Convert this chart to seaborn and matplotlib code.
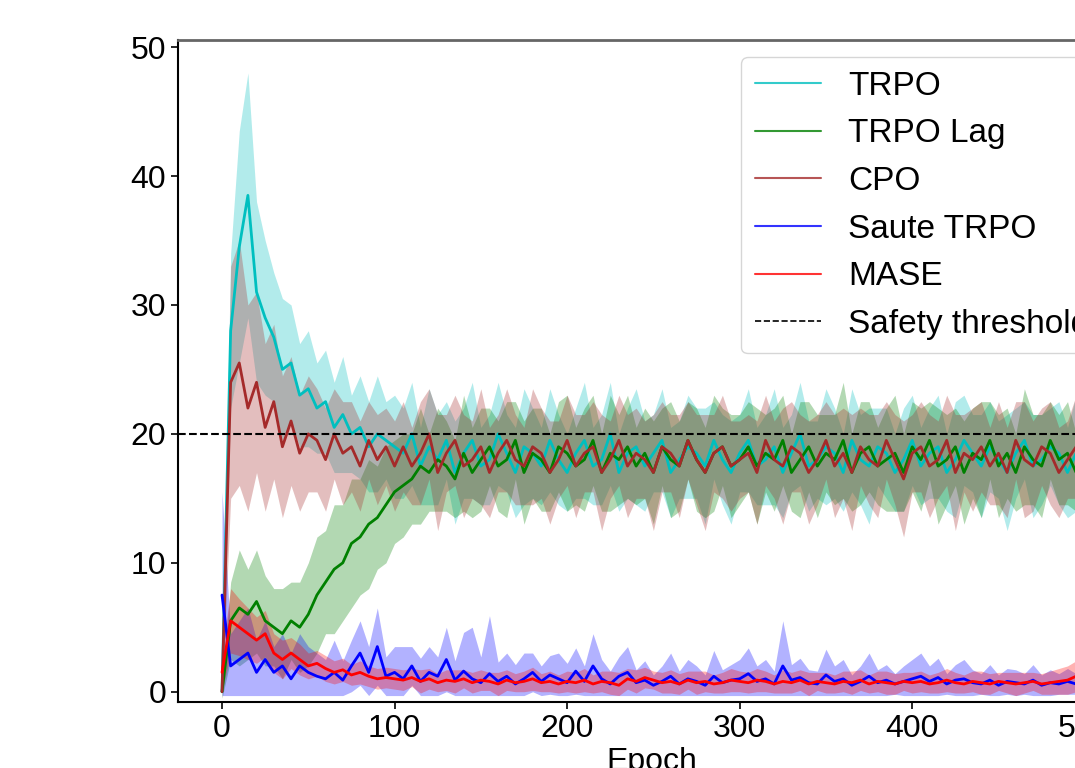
import numpy as np
import pandas as pd
import matplotlib
matplotlib.use("Agg")
import matplotlib.pyplot as plt
import seaborn as sns
from matplotlib.lines import Line2D

# epochs sampled every 5
epochs = np.arange(0, 501, 5)

methods = ["TRPO", "TRPO Lag", "CPO", "Saute TRPO", "MASE"]
colors = {"TRPO": "c", "TRPO Lag": "g", "CPO": "brown", "Saute TRPO": "b", "MASE": "r"}
threshold = 20

trpo_mean = [0.0, 28.0, 34.5, 38.5, 31.0, 29.0, 27.5, 25.0, 25.5, 23.0, 23.5, 22.0, 22.5, 20.5, 21.5, 20.0, 20.5, 19.0, 20.0, 19.5, 19.0,
             18.5, 20.0, 17.5, 19.0, 18.0, 19.5, 17.0, 18.5, 19.5, 17.5, 18.0, 20.0, 18.5, 17.0, 19.0, 18.5, 17.5, 19.5, 18.0, 17.0,
             18.5, 19.5, 17.5, 18.0, 20.0, 17.0, 18.5, 19.0, 17.5, 18.5, 19.5, 17.0, 18.0, 19.0, 18.5, 17.5, 19.5, 18.0, 17.0, 18.5,
             19.5, 17.5, 18.0, 19.0, 17.0, 18.5, 20.0, 17.5, 18.0, 19.0, 18.5, 17.0, 19.5, 18.0, 17.5, 19.0, 18.5, 17.0, 18.0, 19.5,
             17.5, 18.5, 19.0, 17.0, 18.0, 19.5, 18.5, 17.5, 19.0, 18.0, 17.0, 18.5, 19.5, 17.5, 18.0, 19.0, 18.5, 17.0, 18.5, 19.0]
trpo_spread = [0.5, 6.0, 9.0, 9.5, 7.0, 6.0, 5.0, 5.5, 4.5, 4.0, 4.5, 3.5, 4.0, 3.5, 4.5, 3.0, 4.0, 3.5, 4.5, 3.0, 4.0,
               3.5, 4.0, 3.0, 4.5, 3.5, 3.0, 4.0, 3.5, 4.5, 3.0, 3.5, 4.0, 3.0, 3.5, 4.5, 3.5, 3.0, 4.0, 3.5, 3.0,
               3.5, 4.5, 3.0, 3.5, 4.0, 3.0, 3.5, 4.5, 3.5, 3.0, 4.0, 3.5, 3.0, 4.0, 3.5, 4.5, 3.0, 3.5, 4.0, 3.0,
               4.0, 3.0, 3.5, 4.5, 3.5, 3.0, 4.0, 3.5, 3.0, 4.5, 3.5, 3.0, 4.0, 3.5, 4.5, 3.0, 3.5, 3.0, 4.0, 3.5,
               3.0, 3.5, 4.0, 3.0, 4.5, 3.5, 3.0, 4.0, 3.5, 3.0, 4.5, 3.5, 3.0, 4.0, 3.5, 3.0, 4.0, 3.5, 4.5, 3.0]

lag_mean = [0.0, 5.5, 6.5, 6.0, 7.0, 5.5, 5.0, 4.5, 5.5, 5.0, 6.0, 7.5, 8.5, 9.5, 10.0, 11.5, 12.0, 13.0, 13.5, 14.5, 15.5,
            16.0, 16.5, 17.5, 17.0, 18.0, 17.5, 16.5, 18.5, 17.0, 18.0, 19.0, 17.5, 18.0, 19.5, 17.0, 18.5, 18.0, 17.0, 19.0, 18.5,
            17.5, 18.0, 19.5, 17.0, 18.5, 18.0, 19.0, 17.5, 18.5, 17.0, 19.0, 18.0, 17.5, 19.5, 18.0, 17.0, 18.5, 19.0, 17.5, 18.0,
            19.0, 17.5, 18.5, 18.0, 19.5, 17.0, 18.0, 19.0, 17.5, 18.5, 18.0, 19.5, 17.0, 18.5, 19.0, 17.5, 18.0, 18.5, 17.0, 19.0,
            18.0, 19.5, 17.5, 18.0, 19.0, 17.0, 18.5, 18.0, 19.5, 17.5, 18.5, 17.0, 19.0, 18.0, 17.5, 19.5, 18.0, 18.5, 17.0, 18.5]
lag_spread = [0.5, 3.0, 4.5, 3.5, 4.0, 3.5, 3.0, 3.5, 3.0, 3.5, 4.0, 4.5, 4.0, 5.0, 4.5, 5.0, 4.5, 5.0, 4.0, 4.5, 4.0,
              4.0, 3.5, 4.5, 3.0, 4.0, 3.5, 3.0, 4.5, 3.5, 4.0, 3.0, 3.5, 4.5, 3.0, 4.0, 3.5, 4.0, 3.0, 3.5, 4.5,
              3.0, 4.0, 3.5, 3.0, 4.5, 3.5, 4.0, 3.0, 3.5, 4.0, 3.0, 4.5, 3.5, 3.0, 4.0, 3.5, 4.5, 3.0, 4.0, 3.5,
              3.5, 4.5, 3.0, 4.0, 3.5, 3.0, 4.5, 3.5, 4.0, 3.0, 3.5, 4.5, 3.0, 4.0, 3.5, 3.0, 4.0, 4.5, 3.0, 3.5,
              4.0, 3.0, 4.5, 3.5, 3.0, 4.0, 3.5, 4.5, 3.0, 4.0, 3.5, 3.0, 4.5, 3.5, 4.0, 3.0, 3.5, 4.0, 3.0, 4.5]

cpo_mean = [0.0, 24.0, 25.5, 22.0, 24.0, 20.5, 22.5, 19.0, 21.0, 18.5, 20.0, 19.5, 18.0, 20.0, 18.5, 19.0, 17.5, 19.5, 18.0, 19.0, 17.5,
            19.0, 17.5, 18.5, 20.0, 17.0, 18.5, 19.5, 17.5, 18.0, 19.0, 17.0, 18.5, 19.5, 18.0, 17.5, 19.0, 18.5, 17.0, 18.0, 19.5,
            17.5, 18.5, 19.0, 17.0, 18.0, 19.5, 17.5, 18.5, 18.0, 17.0, 19.0, 18.5, 17.5, 19.5, 18.0, 17.0, 18.5, 19.0, 17.5, 18.0,
            18.5, 17.0, 19.5, 18.0, 17.5, 19.0, 18.5, 17.0, 18.0, 19.5, 17.5, 18.5, 17.0, 19.0, 18.0, 17.5, 19.5, 18.0, 16.5, 18.5,
            19.0, 17.5, 18.0, 19.5, 17.0, 18.5, 18.0, 19.0, 17.5, 18.5, 17.0, 19.5, 18.0, 17.5, 19.0, 18.5, 17.0, 18.0, 19.0, 17.5]
cpo_spread = [0.5, 9.0, 9.5, 8.0, 7.0, 6.5, 6.0, 5.5, 5.0, 4.5, 4.5, 4.0, 4.0, 3.5, 4.0, 3.5, 3.5, 3.0, 3.5, 3.0, 3.5,
              3.5, 3.0, 4.0, 3.5, 4.5, 3.0, 3.5, 4.0, 3.0, 4.5, 3.5, 3.0, 4.0, 3.5, 3.0, 4.5, 3.5, 4.0, 3.0, 3.5,
              4.0, 3.0, 3.5, 4.5, 3.0, 3.5, 4.0, 3.5, 3.0, 4.5, 3.5, 3.0, 4.0, 3.0, 3.5, 4.5, 3.0, 4.0, 3.5, 3.0,
              3.0, 4.0, 3.5, 3.0, 4.5, 3.5, 3.0, 4.0, 3.5, 3.0, 4.0, 3.5, 4.5, 3.0, 3.5, 4.0, 3.0, 3.5, 4.5, 3.0,
              3.5, 4.0, 3.0, 3.5, 4.5, 3.0, 4.0, 3.5, 3.0, 4.0, 3.5, 3.0, 4.5, 3.5, 3.0, 4.0, 3.5, 3.0, 4.0, 3.5]

saute_mean = [7.5, 2.0, 2.5, 3.0, 1.5, 2.5, 1.5, 2.0, 1.0, 2.0, 1.5, 1.2, 1.0, 1.5, 0.9, 2.0, 3.0, 1.5, 3.5, 1.2, 1.5,
              1.0, 2.0, 0.8, 1.5, 1.2, 2.5, 0.9, 1.6, 1.0, 0.7, 1.4, 0.8, 1.2, 0.6, 1.0, 1.5, 0.8, 1.3, 1.0, 0.7,
              1.6, 0.8, 2.0, 1.0, 0.6, 1.2, 1.5, 0.7, 0.9, 0.5, 0.8, 1.2, 0.6, 1.0, 0.8, 0.5, 1.2, 0.7, 0.9, 1.0,
              1.4, 0.8, 1.0, 0.6, 2.0, 0.9, 1.1, 0.7, 0.6, 1.3, 0.8, 1.0, 0.5, 0.8, 1.2, 0.7, 0.9, 0.6, 0.8, 1.0,
              1.2, 0.8, 1.1, 0.6, 0.9, 1.0, 0.7, 0.6, 0.9, 0.5, 0.8, 0.7, 0.6, 0.9, 0.5, 0.7, 0.6, 0.8, 0.6, 0.7]
saute_spread = [8.0, 2.5, 3.0, 3.5, 2.5, 3.0, 2.0, 2.5, 2.0, 2.5, 2.0, 1.8, 1.5, 2.5, 1.5, 2.0, 2.5, 2.0, 3.0, 1.5, 2.0,
                2.5, 1.5, 1.8, 2.0, 1.5, 2.5, 1.5, 3.0, 4.0, 2.0, 4.5, 1.5, 1.8, 1.5, 2.0, 1.5, 1.2, 1.5, 2.0, 1.5,
                1.8, 1.2, 2.5, 1.5, 1.0, 1.5, 2.0, 1.0, 1.5, 0.8, 1.2, 1.8, 1.0, 1.5, 1.2, 0.8, 2.0, 1.0, 1.2, 1.5,
                2.0, 1.2, 1.5, 1.0, 3.5, 1.2, 1.5, 1.0, 1.0, 2.0, 1.2, 1.5, 0.8, 1.2, 1.8, 1.0, 1.2, 0.8, 1.2, 1.5,
                1.8, 1.2, 1.5, 0.8, 1.2, 1.5, 1.0, 0.8, 1.2, 0.8, 1.0, 1.0, 0.8, 1.2, 0.8, 1.0, 0.8, 1.0, 0.8, 1.0]

mase_mean = [1.5, 5.5, 5.0, 4.5, 4.0, 4.5, 3.0, 2.5, 3.0, 2.5, 2.0, 2.2, 1.8, 1.5, 1.7, 1.3, 1.5, 1.2, 1.0, 1.1, 1.0,
             0.9, 1.1, 0.8, 1.0, 0.7, 0.9, 0.8, 1.0, 0.7, 0.9, 0.8, 0.6, 0.9, 0.7, 0.8, 1.0, 0.7, 0.8, 0.6, 0.8,
             0.7, 0.9, 0.6, 0.8, 0.7, 0.5, 1.0, 0.8, 1.1, 0.9, 0.7, 0.8, 0.6, 0.9, 0.7, 0.8, 0.6, 0.7, 0.9, 0.8,
             0.7, 0.9, 0.8, 0.6, 0.8, 0.7, 0.9, 0.6, 0.8, 0.7, 0.6, 0.8, 0.7, 0.9, 0.6, 0.8, 0.7, 0.6, 0.8, 0.7,
             0.8, 0.6, 0.7, 0.9, 0.7, 0.6, 0.8, 0.7, 0.6, 0.8, 0.7, 0.6, 0.7, 0.8, 0.6, 0.7, 0.8, 0.9, 1.2, 1.4]
mase_spread = [1.5, 2.5, 2.2, 2.0, 1.8, 1.8, 1.5, 1.5, 1.2, 1.2, 1.0, 1.0, 1.0, 0.9, 0.9, 0.8, 0.9, 0.8, 0.8, 0.8, 0.8,
               0.8, 0.7, 0.9, 0.8, 0.7, 0.8, 0.9, 0.7, 0.8, 0.8, 0.7, 0.9, 0.8, 0.7, 0.8, 0.9, 0.7, 0.8, 0.7, 0.8,
               0.8, 0.9, 0.7, 0.8, 0.9, 1.0, 0.8, 0.9, 0.8, 0.7, 0.8, 0.9, 0.8, 0.7, 0.9, 0.8, 0.7, 0.8, 0.9, 0.8,
               0.8, 0.9, 0.8, 0.7, 0.9, 0.8, 0.8, 0.9, 0.7, 0.8, 0.7, 0.8, 0.9, 0.8, 0.7, 0.8, 0.9, 0.8, 0.7, 0.8,
               0.8, 0.7, 0.8, 0.9, 0.8, 0.7, 0.8, 0.9, 0.8, 0.7, 0.8, 0.9, 0.8, 0.7, 0.8, 0.9, 1.0, 1.1, 1.2, 1.3]

means = {"TRPO": trpo_mean, "TRPO Lag": lag_mean, "CPO": cpo_mean,
         "Saute TRPO": saute_mean, "MASE": mase_mean}
spreads = {"TRPO": trpo_spread, "TRPO Lag": lag_spread, "CPO": cpo_spread,
           "Saute TRPO": saute_spread, "MASE": mase_spread}

sns.set_style("ticks")
plt.rcParams['font.family'] = ['Liberation Sans', 'DejaVu Sans']
plt.rcParams['text.color'] = 'black'
plt.rcParams['xtick.color'] = 'black'
plt.rcParams['ytick.color'] = 'black'
plt.rcParams['axes.labelcolor'] = 'black'

fig = plt.figure(figsize=(10.75, 7.68), dpi=100)
ax = fig.add_axes([0.1656, 0.0859, 0.882, 0.862])

for m in methods:
    df = pd.DataFrame({"Epoch": epochs, "value": means[m]})
    mu = np.array(means[m])
    sd = np.array(spreads[m])
    lo = mu - sd
    if m in ("Saute TRPO", "MASE"):
        lo = np.clip(lo, -0.3, None)
    ax.fill_between(epochs, lo, mu + sd, color=colors[m], alpha=0.3, lw=0)
    sns.lineplot(data=df, x="Epoch", y="value", color=colors[m], lw=2, ax=ax)

ax.axhline(threshold, color="black", ls="--", lw=1.5)

ax.set_xlim(-25.5, 524)
ax.set_ylim(-0.8, 50.55)
ax.set_xticks([0, 100, 200, 300, 400, 500])
ax.set_yticks([0, 10, 20, 30, 40, 50])
ax.set_xlabel("Epoch", fontsize=23, labelpad=2)
ax.set_ylabel("")
ax.tick_params(labelsize=23, length=5, width=1.2, color="black")
for s in ["left", "bottom"]:
    ax.spines[s].set_color("black")
    ax.spines[s].set_linewidth(1.5)
ax.spines["top"].set_color("#666666")
ax.spines["top"].set_linewidth(2)

handles = [Line2D([], [], color=colors[m], lw=1.5, alpha=0.8) for m in methods]
handles.append(Line2D([], [], color="black", ls="--", lw=1.2))
labels = methods + ["Safety threshold"]
ax.legend(handles, labels, loc="upper left", bbox_to_anchor=(0.594, 0.974),
          borderaxespad=0, fontsize=24, frameon=True)

fig.savefig("out.png", dpi=100)
plt.close()
